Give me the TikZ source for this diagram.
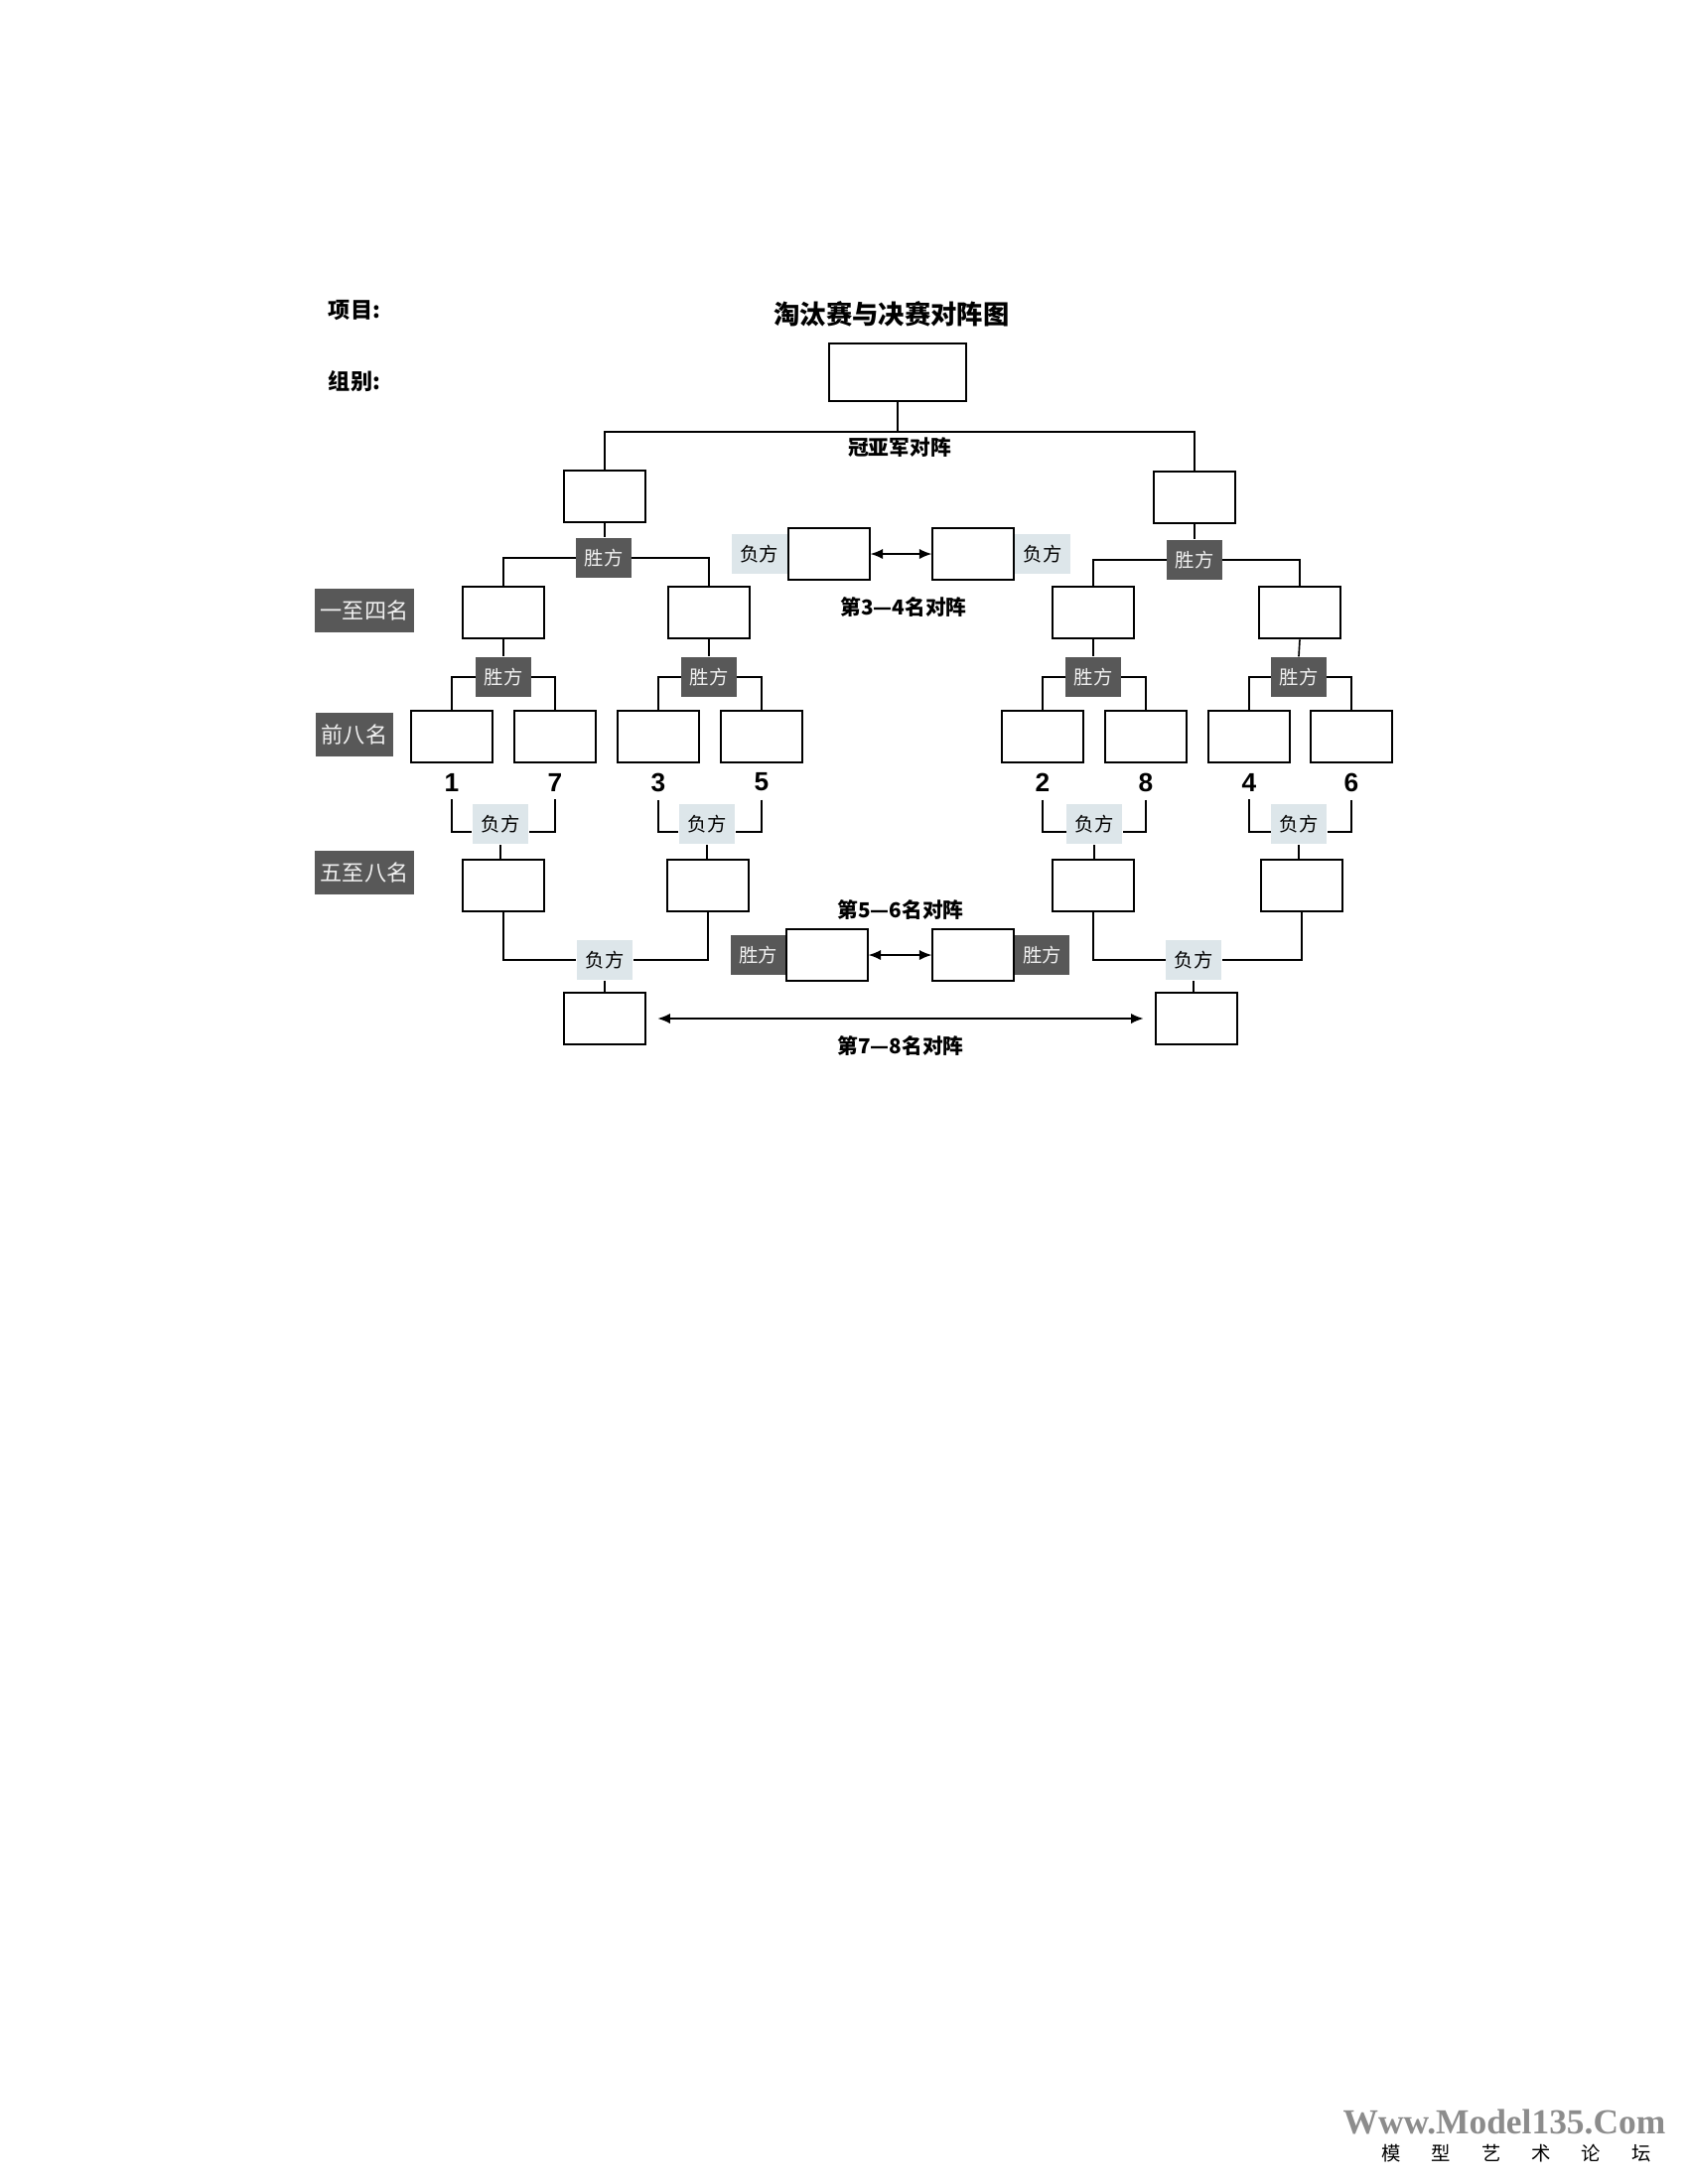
\documentclass[tikz,border=0pt]{standalone}
\usepackage{fontspec}
\setmainfont{Noto Sans CJK SC}
\newfontfamily\latinfont{Liberation Sans}
\newfontfamily\markfont{Liberation Serif}
\usetikzlibrary{positioning,arrows.meta}

\definecolor{darklbl}{RGB}{88,88,88}
\definecolor{lightlbl}{RGB}{221,230,234}
\definecolor{lbltext}{RGB}{240,240,240}

\tikzset{
  slot/.style={draw, line width=0.7pt, fill=white, minimum width=10.3mm, minimum height=6.7mm, inner sep=0pt},
  bigslot/.style={slot, minimum width=17.5mm, minimum height=7.4mm},
  win/.style={fill=darklbl, text=lbltext, minimum width=7mm, minimum height=5.1mm, inner sep=0pt, font=\fontsize{7}{8}\selectfont},
  lose/.style={fill=lightlbl, text=black, minimum width=7.1mm, minimum height=5.2mm, inner sep=0pt, font=\fontsize{7}{8}\selectfont},
  rank/.style={fill=darklbl, text=lbltext, minimum height=5.6mm, inner sep=0pt, font=\fontsize{8}{9}\selectfont},
  title/.style={font=\bfseries\fontsize{7.5}{9}\selectfont},
  seed/.style={font=\latinfont\bfseries\fontsize{9.5}{10}\selectfont, inner sep=1mm},
  wire/.style={line width=0.6pt},
  pair/.style={wire, {Latex[length=1.6mm,width=1.3mm]}-{Latex[length=1.6mm,width=1.3mm]}},
}

\begin{document}
\begin{tikzpicture}[x=0.127mm, y=-0.127mm]
\useasboundingbox (0,0) rectangle (1700,2200);

% heading
\node[font=\bfseries\fontsize{8}{9}\selectfont] (item) at (357,313) {项目:};
\node[font=\bfseries\fontsize{8}{9}\selectfont] (group) at (357,384) {组别:};
\node[font=\bfseries\fontsize{9.5}{11}\selectfont] (head) at (898,316) {淘汰赛与决赛对阵图};

% final
\node[bigslot] (final) at (904,375) {};
\node[slot] (sfL) at (609,500) {};
\node[slot] (sfR) at (1203,501) {};
\node[title] (finlbl) at (906,451) {冠亚军对阵};
\draw[wire] (final.south) -- ++(0,30) -| (sfL.north);
\draw[wire] (final.south) -- ++(0,30) -| (sfR.north);

% semi finals
\node[win] (wL) at (608,562) {胜方};
\node[win] (wR) at (1203,564) {胜方};
\draw[wire] (sfL.south) -- (sfL.south |- wL.north);
\draw[wire] (sfR.south) -- (sfR.south |- wR.north);

\node[slot] (qf1) at (507,617) {};
\node[slot] (qf2) at (714,617) {};
\node[slot] (qf3) at (1101,617) {};
\node[slot] (qf4) at (1309,617) {};
\draw[wire] (wL.west) -| (qf1.north);
\draw[wire] (wL.east) -| (qf2.north);
\draw[wire] (wR.west) -| (qf3.north);
\draw[wire] (wR.east) -| (qf4.north);

% quarter finals
\node[win] (w1) at (507,682) {胜方};
\node[win] (w2) at (714,682) {胜方};
\node[win] (w3) at (1101,682) {胜方};
\node[win] (w4) at (1308,682) {胜方};
\draw[wire] (qf1.south) -- (w1.north);
\draw[wire] (qf2.south) -- (w2.north);
\draw[wire] (qf3.south) -- (w3.north);
\draw[wire] (qf4.south) -- (w4.north);

\node[slot] (r1) at (455,742) {};
\node[slot] (r7) at (559,742) {};
\node[slot] (r3) at (663,742) {};
\node[slot] (r5) at (767,742) {};
\node[slot] (r2) at (1050,742) {};
\node[slot] (r8) at (1154,742) {};
\node[slot] (r4) at (1258,742) {};
\node[slot] (r6) at (1361,742) {};
\draw[wire] (w1.west) -| (r1.north);
\draw[wire] (w1.east) -| (r7.north);
\draw[wire] (w2.west) -| (r3.north);
\draw[wire] (w2.east) -| (r5.north);
\draw[wire] (w3.west) -| (r2.north);
\draw[wire] (w3.east) -| (r8.north);
\draw[wire] (w4.west) -| (r4.north);
\draw[wire] (w4.east) -| (r6.north);

% seeds
\node[seed] (n1) at (455,788) {1};
\node[seed] (n7) at (559,788) {7};
\node[seed] (n3) at (663,788) {3};
\node[seed] (n5) at (767,788) {5};
\node[seed] (n2) at (1050,788) {2};
\node[seed] (n8) at (1154,788) {8};
\node[seed] (n4) at (1258,788) {4};
\node[seed] (n6) at (1361,788) {6};

% places 5 to 8
\node[lose] (lo1) at (504,830) {负方};
\node[lose] (lo2) at (712,830) {负方};
\node[lose] (lo3) at (1102,830) {负方};
\node[lose] (lo4) at (1308,830) {负方};
\draw[wire] (n1.south) |- ([yshift=-1mm]lo1.west);
\draw[wire] (n7.south) |- ([yshift=-1mm]lo1.east);
\draw[wire] (n3.south) |- ([yshift=-1mm]lo2.west);
\draw[wire] (n5.south) |- ([yshift=-1mm]lo2.east);
\draw[wire] (n2.south) |- ([yshift=-1mm]lo3.west);
\draw[wire] (n8.south) |- ([yshift=-1mm]lo3.east);
\draw[wire] (n4.south) |- ([yshift=-1mm]lo4.west);
\draw[wire] (n6.south) |- ([yshift=-1mm]lo4.east);

\node[slot] (f1) at (507,892) {};
\node[slot] (f2) at (713,892) {};
\node[slot] (f3) at (1101,892) {};
\node[slot] (f4) at (1311,892) {};
\draw[wire] (lo1.south) -- (lo1.south |- f1.north);
\draw[wire] (lo2.south) -- (lo2.south |- f2.north);
\draw[wire] (lo3.south) -- (lo3.south |- f3.north);
\draw[wire] (lo4.south) -- (lo4.south |- f4.north);

% places 7 and 8
\node[lose] (lo5) at (609,967) {负方};
\node[lose] (lo6) at (1202,967) {负方};
\draw[wire] (f1.south) |- (lo5.west);
\draw[wire] (f2.south) |- (lo5.east);
\draw[wire] (f3.south) |- (lo6.west);
\draw[wire] (f4.south) |- (lo6.east);
\node[slot] (s7L) at (609,1026) {};
\node[slot] (s7R) at (1205,1026) {};
\draw[wire] (lo5.south) -- (lo5.south |- s7L.north);
\draw[wire] (lo6.south) -- (lo6.south |- s7R.north);
\draw[pair, shorten <=1.5mm, shorten >=1.5mm] (s7L) -- (s7R);
\node[title] (lbl78) at (907,1053) {第7—8名对阵};

% places 3 and 4
\node[slot] (m3) at (835,558) {};
\node[slot] (m4) at (980,558) {};
\node[lose, left=0pt of m3] (lo34a) {负方};
\node[lose, right=0pt of m4] (lo34b) {负方};
\draw[pair] (m3) -- (m4);
\node[title] (lbl34) at (910,611) {第3—4名对阵};

% places 5 and 6
\node[slot] (m5) at (833,962) {};
\node[slot] (m6) at (980,962) {};
\node[win, left=0pt of m5] (w56a) {胜方};
\node[win, right=0pt of m6] (w56b) {胜方};
\draw[pair] (m5) -- (m6);
\node[title] (lbl56) at (907,916) {第5—6名对阵};

% rank tags
\node[rank, minimum width=12.7mm] (top4) at (367,615) {一至四名};
\node[rank, minimum width=10mm] (top8) at (357,740) {前八名};
\node[rank, minimum width=12.7mm] (low4) at (367,879) {五至八名};

% watermark
\node[text=black!45, font=\markfont\bfseries\fontsize{12.8}{14}\selectfont] (mark) at (1515,2137) {Www.Model135.Com};
\node[font=\fontsize{7}{8}\selectfont] (markcn) at (1527,2169) {模\hspace{1.6em}型\hspace{1.6em}艺\hspace{1.6em}术\hspace{1.6em}论\hspace{1.6em}坛};
\end{tikzpicture}
\end{document}
